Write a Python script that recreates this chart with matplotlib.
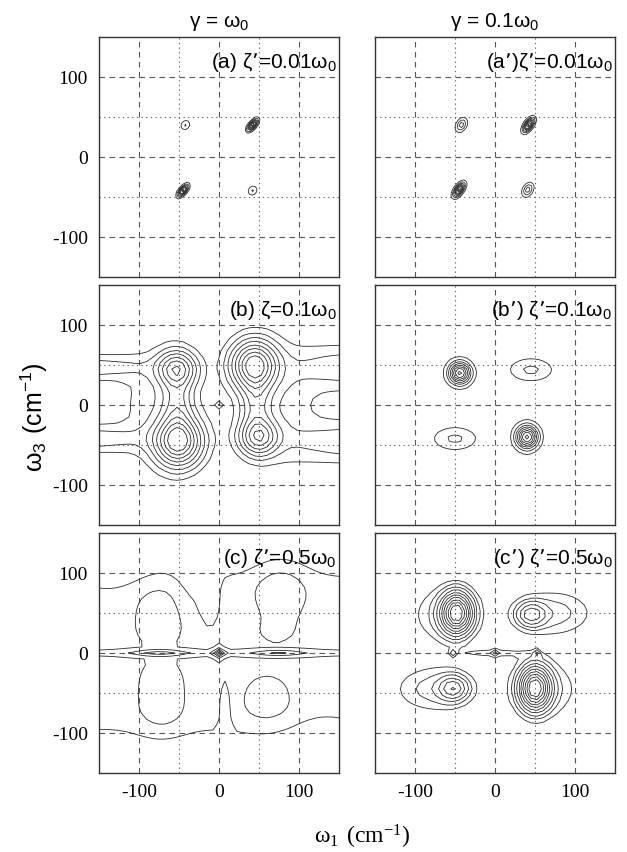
import numpy as np
import matplotlib.pyplot as plt

plt.rcParams["axes.unicode_minus"] = False

# peak lists: (w1 centre, w3 centre, amplitude, width along, width across, tilt deg)
peaks_a = [(-42, 40, 0.24, 4.5, 3.8, 50), (42, 40, 1.0, 5.8, 2.6, 50),
           (-45, -42, 1.0, 5.8, 2.6, 50), (42, -42, 0.24, 4.5, 3.8, 50)]
peaks_a2 = [(-42, 40, 0.42, 6.0, 4.0, 60), (42, 40, 1.0, 6.5, 3.2, 55),
            (-45, -41, 1.0, 6.5, 3.2, 55), (41, -41, 0.42, 6.0, 4.0, 60)]
peaks_b = [(-51, -46, 1.0, 18, 19, 0), (-53, 45, 0.65, 15, 14, 0),
           (-52, 0, 0.3, 12, 28, 0), (-75, 0, 0.1, 35, 50, 0),
           (44, 50, 1.0, 18, 19, 0), (50, -40, 0.65, 15, 14, 0),
           (47, 0, 0.3, 12, 28, 0), (75, 0, 0.1, 35, 50, 0),
           (-175, 47, 0.2, 60, 10, 0), (-175, -42, 0.2, 60, 11, 0),
           (175, 47, 0.2, 60, 18, 0), (175, -46, 0.2, 60, 17, 0),
           (0, 0, 0.12, 3, 2, 0)]
peaks_b2 = [(-44, 40, 1.0, 9.5, 9.5, 0), (45, 44, 0.25, 19, 10, 0),
            (-50, -42, 0.25, 19, 10, 0), (40, -40, 1.0, 9.5, 10, 0)]
peaks_c = [(0, 80, 0.12, 1000, 25, 0), (0, 25, 0.12, 1000, 25, 0),
           (0, -25, 0.12, 1000, 25, 0), (0, -80, 0.12, 1000, 25, 0),
           (0, 0, 0.1, 1000, 3, 0), (-75, 0, 0.18, 28, 3, 0), (75, 0, 0.18, 28, 3, 0),
           (0, 0, 0.45, 5, 5, 0),
           (-75, 48, 0.14, 24, 28, 0), (77, 75, 0.16, 24, 30, 0), (70, 25, 0.05, 18, 12, 0),
           (-72, -55, 0.16, 22, 30, 0), (60, -58, 0.13, 25, 22, 0),
           (-12, 75, -0.12, 8, 30, 0), (-35, 85, -0.07, 15, 25, 0),
           (8, -75, -0.12, 5, 30, 0),
           (-130, 95, -0.05, 35, 15, 0), (130, -95, -0.05, 35, 15, 0)]
peaks_c2 = [(-48, 50, 1.0, 12, 16, 0), (-60, 48, 0.14, 30, 25, 0),
            (45, 48, 0.35, 12, 10, 0), (72, 50, 0.15, 35, 20, 0),
            (-52, -44, 0.35, 12, 10, 0), (-75, -45, 0.15, 35, 20, 0),
            (50, -44, 1.0, 12, 17, 0), (60, -45, 0.14, 30, 25, 0),
            (0, 0, 0.09, 30, 5, 0),
            (-52.5, 0, 0.12, 2, 3, 0), (52.5, 0, 0.12, 2, 3, 0), (0, 0, 0.12, 2, 2, 0)]

levels_a = [0.1, 0.22, 0.34, 0.46, 0.58, 0.7, 0.82, 0.94]
levels_b = [0.06, 0.13, 0.22, 0.33, 0.46, 0.6, 0.75, 0.9]
levels_c = [0.1, 0.2, 0.33, 0.43, 0.53, 0.63]
levels_c2 = [0.07, 0.12, 0.18, 0.26, 0.35, 0.45, 0.56, 0.68, 0.8, 0.92]

panel_labels = ["(a) ζ’=0.01", "(a’)ζ’=0.01", "(b) ζ=0.1", "(b’) ζ’=0.1",
                "(c) ζ’=0.5", "(c’) ζ’=0.5"]
column_titles = [r"γ = $\mathregular{\omega_0}$", r"γ = 0.1$\mathregular{\omega_0}$"]
ticks = [-100, 0, 100]
grid_major = [-100, 0, 100]
grid_minor = [-50, 50]


def field(peaks, step):
    w = np.arange(-150, 150.1, step)
    X, Y = np.meshgrid(w, w)
    Z = np.zeros_like(X)
    for x0, y0, amp, su, sv, ang in peaks:
        t = np.deg2rad(ang)
        dx, dy = X - x0, Y - y0
        u = dx * np.cos(t) + dy * np.sin(t)
        v = -dx * np.sin(t) + dy * np.cos(t)
        Z += amp * np.exp(-0.5 * ((u / su) ** 2 + (v / sv) ** 2))
    return X, Y, Z


fig = plt.figure(figsize=(6.27, 8.52), dpi=100)
col_x = [99 / 627, 375 / 627]
row_y = [575 / 852, 327 / 852, 79 / 852]
W, H = 240 / 627, 240 / 852

# (peaks, contour levels, sampling step in cm-1)
panels = [(peaks_a, levels_a, 3), (peaks_a2, levels_a, 3),
          (peaks_b, levels_b, 7.5), (peaks_b2, levels_a, 5),
          (peaks_c, levels_c, 7.5), (peaks_c2, levels_c2, 7.5)]

for i, (pk, lv, step) in enumerate(panels):
    r, c = divmod(i, 2)
    ax = fig.add_axes([col_x[c], row_y[r], W, H])
    for g in grid_major:
        ax.axvline(g, color="#555555", lw=0.8, ls=(0, (5, 4)), zorder=0)
        ax.axhline(g, color="#555555", lw=0.8, ls=(0, (5, 4)), zorder=0)
    for g in grid_minor:
        ax.axvline(g, color="#666666", lw=0.8, ls=(0, (1.2, 3)), zorder=0)
        ax.axhline(g, color="#666666", lw=0.8, ls=(0, (1.2, 3)), zorder=0)
    X, Y, Z = field(pk, step)
    ax.contour(X, Y, Z, levels=lv, colors="#2a2a2a", linewidths=0.6)
    ax.set_xlim(-150, 150)
    ax.set_ylim(-150, 150)
    ax.set_xticks(ticks)
    ax.set_yticks(ticks)
    ax.tick_params(length=0, labelsize=14, pad=8)
    for lab in ax.get_xticklabels() + ax.get_yticklabels():
        lab.set_fontfamily("Liberation Serif")
    if r < 2:
        ax.set_xticklabels([])
    if c == 1:
        ax.set_yticklabels([])
    for s in ax.spines.values():
        s.set_color("#333333")
        s.set_linewidth(1.0)
    ax.text(0.99, 0.895, panel_labels[i] + r"$\mathregular{\omega_0}$",
            transform=ax.transAxes, ha="right", va="center",
            fontsize=15, family="Liberation Sans")
    if r == 0:
        ax.set_title(column_titles[c], fontsize=15, family="Liberation Sans", pad=7)

fig.text(0.055, 0.51, r"$\mathregular{\omega_3\ (cm^{-1})}$", rotation=90,
         ha="center", va="center", fontsize=18, family="Liberation Sans")
fig.text(0.578, 0.018, r"$\mathregular{\omega_1\ (cm^{-1})}$", ha="center",
         va="center", fontsize=17, family="Liberation Serif")

fig.savefig("out.png", dpi=100)
